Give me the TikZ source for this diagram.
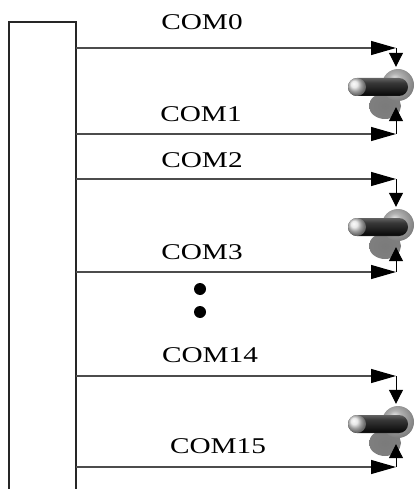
\documentclass[tikz,border=0pt]{standalone}
\usepackage{fontspec}
\setmainfont{Liberation Serif}
\newfontfamily\comfont[FakeStretch=1.3]{Liberation Serif}
\usetikzlibrary{arrows.meta}

\pgfdeclareradialshading{blobShade}{\pgfpoint{0bp}{0bp}}{color(0bp)=(black!52); color(30bp)=(black!50); color(43bp)=(black!28); color(50bp)=(white)}
\pgfdeclareradialshading{diskShade}{\pgfpoint{-6bp}{10bp}}{color(0bp)=(black!8); color(10bp)=(black!30); color(30bp)=(black!52); color(43bp)=(black!38); color(50bp)=(white)}
\pgfdeclareverticalshading{leverShade}{100bp}{color(0bp)=(black!60); color(30bp)=(black!95); color(62bp)=(black!78); color(100bp)=(black!30)}

\tikzstyle{boxLine}=[draw=black!85, line width=1.1pt]
\tikzstyle{comLine}=[draw=black!70, line width=1.1pt, -{Triangle[length=25pt, width=14pt, color=black]}]
\tikzstyle{tipLine}=[draw=black, line width=1pt, -{Triangle[length=14pt, width=14pt]}]
\tikzstyle{comLabel}=[inner sep=0pt, font=\comfont\fontsize{22.5}{22.5}\selectfont]
\tikzstyle{knobSpot}=[shape=rectangle, minimum width=0pt, minimum height=40pt, inner sep=0pt]
\tikzstyle{dotStyle}=[shape=circle, minimum size=12pt, inner sep=0pt, fill]

\tikzset{knob/.pic={
  % shadow, base disk, lever and its round end
  \shade[shading=blobShade] (-11,19) ellipse [x radius=16pt, y radius=13pt];
  \shade[shading=diskShade] (2,-2) circle [radius=16pt];
  \shade[shading=leverShade, rounded corners=9pt] (-48,-9) rectangle (12,9);
  \shade[ball color=black!12] (-39,0) circle [radius=9pt];
}}

\begin{document}
\begin{tikzpicture}[x = 1pt, y = -1pt]
\useasboundingbox (0,0) rectangle (416,489);

\draw[boxLine] (9,489) -- (9,22) -- (76,22) -- (76,489);

\node[knobSpot] (k1) at (396,87) {};
\node[knobSpot] (k2) at (396,227) {};
\node[knobSpot] (k3) at (396,424) {};
\pic at (k1) {knob};
\pic at (k2) {knob};
\pic at (k3) {knob};

\coordinate (s0) at (76,48);   \coordinate (e0) at (396,48);
\coordinate (s1) at (76,134);  \coordinate (e1) at (396,134);
\coordinate (s2) at (76,179);  \coordinate (e2) at (396,179);
\coordinate (s3) at (76,272);  \coordinate (e3) at (396,272);
\coordinate (s14) at (76,376); \coordinate (e14) at (396,376);
\coordinate (s15) at (76,467); \coordinate (e15) at (396,467);

\node[comLabel] (l0) at (202,22) {COM0};
\node[comLabel] (l1) at (201,114) {COM1};
\node[comLabel] (l2) at (202,160) {COM2};
\node[comLabel] (l3) at (202,252) {COM3};
\node[comLabel] (l14) at (210,355) {COM14};
\node[comLabel] (l15) at (218,446) {COM15};

\draw[comLine] (s0) -- (e0);
\draw[comLine] (s1) -- (e1);
\draw[comLine] (s2) -- (e2);
\draw[comLine] (s3) -- (e3);
\draw[comLine] (s14) -- (e14);
\draw[comLine] (s15) -- (e15);

\draw[tipLine] (e0) -- (k1.north);
\draw[tipLine] (e1) -- (k1.south);
\draw[tipLine] (e2) -- (k2.north);
\draw[tipLine] (e3) -- (k2.south);
\draw[tipLine] (e14) -- (k3.north);
\draw[tipLine] (e15) -- (k3.south);

\node[dotStyle] (d1) at (200,289) {};
\node[dotStyle] (d2) at (200,312) {};
\end{tikzpicture}
\end{document}
